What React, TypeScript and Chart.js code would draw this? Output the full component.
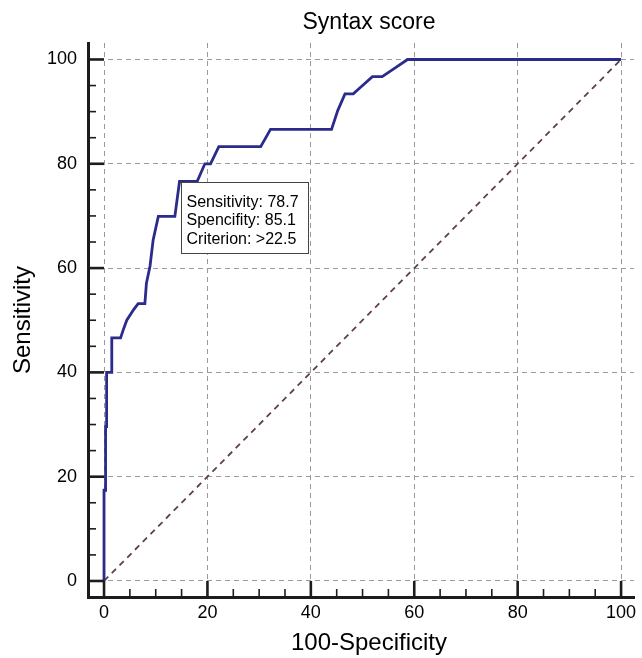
import React, { useEffect, useRef } from "react";
import { Chart, registerables } from "chart.js";

Chart.register(...registerables);

// ---- Data ----
const chartTitle = "Syntax score";
const xAxisTitle = "100-Specificity";
const yAxisTitle = "Sensitivity";

// ROC curve: 100-Specificity (x) vs Sensitivity (y)
const rocX = [
  0, 0, 0.3, 0.3, 0.5, 0.5, 1.5, 1.5, 3.2, 3.7, 4.4, 5.7, 6.6, 7.9, 8.2, 8.9,
  9.5, 10.5, 13.7, 14.6, 18.0, 19.5, 20.6, 22.2, 30.3, 32.2, 44.0, 45.2, 46.6,
  48.2, 50.0, 51.9, 53.8, 56.6, 58.7, 100,
];
const rocY = [
  0, 17.4, 17.4, 29.6, 29.6, 40.0, 40.0, 46.6, 46.6, 48.1, 50.0, 52.0, 53.2,
  53.2, 57.1, 60.4, 65.4, 69.9, 69.9, 76.6, 76.6, 80.0, 80.0, 83.3, 83.3, 86.6,
  86.6, 90.2, 93.4, 93.4, 95.0, 96.7, 96.7, 98.6, 100, 100,
];

// Reference (chance) line
const refX = [0, 100];
const refY = [0, 100];

const majorTicks = [0, 20, 40, 60, 80, 100];
const minorTicks = [5, 10, 15, 25, 30, 35, 45, 50, 55, 65, 70, 75, 85, 90, 95];

// Criterion annotation
const criterionX = 14.9; // 100 - 85.1
const criterionY = 76.6;
const criterionLines = ["Sensitivity: 78.7", "Spencifity: 85.1", "Criterion: >22.5"];

const FONT = "'Liberation Sans', Arial, Helvetica, sans-serif";

export default function App() {
  const canvasRef = useRef<HTMLCanvasElement | null>(null);

  useEffect(() => {
    const canvas = canvasRef.current;
    if (!canvas) return;

    const overlay = {
      id: "overlay",
      afterDatasetsDraw(chart: any) {
        const { ctx, chartArea, scales } = chart;
        const xs = scales.x;
        const ys = scales.y;
        ctx.save();

        // inward tick marks
        ctx.strokeStyle = "#1c1c1c";
        const axisY = chartArea.bottom;
        const axisX = chartArea.left;
        const tick = (v: number, len: number, w: number) => {
          ctx.lineWidth = w;
          const px = xs.getPixelForValue(v);
          ctx.beginPath();
          ctx.moveTo(px, axisY);
          ctx.lineTo(px, axisY - len);
          ctx.stroke();
          const py = ys.getPixelForValue(v);
          ctx.beginPath();
          ctx.moveTo(axisX, py);
          ctx.lineTo(axisX + len, py);
          ctx.stroke();
        };
        majorTicks.forEach((v) => tick(v, 16, 2.6));
        minorTicks.forEach((v) => tick(v, 8, 1.6));

        // annotation box
        const bx = Math.round(xs.getPixelForValue(criterionX)) + 0.5;
        const by = Math.round(ys.getPixelForValue(criterionY)) + 0.5;
        const bw = 127;
        const bh = 71;
        ctx.fillStyle = "#ffffff";
        ctx.fillRect(bx, by, bw, bh);
        ctx.strokeStyle = "#444444";
        ctx.lineWidth = 1;
        ctx.strokeRect(bx, by, bw, bh);
        ctx.fillStyle = "#000000";
        ctx.font = `16px ${FONT}`;
        ctx.textAlign = "left";
        ctx.textBaseline = "middle";
        criterionLines.forEach((t, i) => {
          ctx.fillText(t, bx + 5, by + 20 + i * 18.3);
        });

        // chart title and x-axis title
        const cx = (chartArea.left + chartArea.right) / 2 + 8;
        ctx.textAlign = "center";
        ctx.textBaseline = "middle";
        ctx.font = `23px ${FONT}`;
        ctx.fillText(chartTitle, cx, 23);
        ctx.font = `24px ${FONT}`;
        ctx.fillText(xAxisTitle, cx, 643);

        ctx.restore();
      },
    };

    const chart = new Chart(canvas, {
      type: "scatter",
      data: {
        datasets: [
          {
            label: "ROC",
            data: rocX.map((x, i) => ({ x, y: rocY[i] })),
            showLine: true,
            borderColor: "#2b2b8c",
            borderWidth: 2.8,
            pointRadius: 0,
            fill: false,
            tension: 0,
          },
          {
            label: "Reference",
            data: refX.map((x, i) => ({ x, y: refY[i] })),
            showLine: true,
            borderColor: "#5e3f4c",
            borderWidth: 1.8,
            borderDash: [6, 5],
            pointRadius: 0,
            fill: false,
          },
        ],
      },
      options: {
        animation: false,
        responsive: true,
        maintainAspectRatio: false,
        layout: { padding: { left: 0, top: 43, right: 8, bottom: 0 } },
        plugins: {
          legend: { display: false },
          tooltip: { enabled: false },
          title: { display: false },
        },
        scales: {
          x: {
            type: "linear",
            min: -3.1,
            max: 102.5,
            afterFit: (scale: any) => {
              scale.height = 61;
            },
            afterBuildTicks: (scale: any) => {
              scale.ticks = majorTicks.map((v) => ({ value: v }));
            },
            grid: {
              display: true,
              drawTicks: false,
              color: "#9a9a9a",
              lineWidth: 1,
            },
            border: { display: true, color: "#1c1c1c", width: 3, dash: [5, 4] },
            ticks: {
              color: "#000",
              padding: 5,
              font: { family: FONT, size: 18 },
              maxRotation: 0,
            },
            title: { display: false, text: xAxisTitle },
          },
          y: {
            type: "linear",
            min: -3.07,
            max: 103.16,
            afterFit: (scale: any) => {
              scale.width = 88;
            },
            afterBuildTicks: (scale: any) => {
              scale.ticks = majorTicks.map((v) => ({ value: v }));
            },
            grid: {
              display: true,
              drawTicks: false,
              color: "#9a9a9a",
              lineWidth: 1,
            },
            border: { display: true, color: "#1c1c1c", width: 3, dash: [5, 4] },
            ticks: {
              color: "#000",
              padding: 11,
              font: { family: FONT, size: 18 },
            },
            title: {
              display: true,
              text: yAxisTitle,
              color: "#000",
              font: { family: FONT, size: 24 },
              padding: { top: 8.6, bottom: 0 },
            },
          },
        },
      },
      plugins: [overlay],
    });

    return () => {
      chart.destroy();
    };
  }, []);

  return (
    <div
      style={{
        position: "absolute",
        left: 0,
        top: 0,
        width: 642,
        height: 658,
        background: "#fff",
      }}
    >
      <canvas ref={canvasRef} style={{ display: "block" }} />
    </div>
  );
}
